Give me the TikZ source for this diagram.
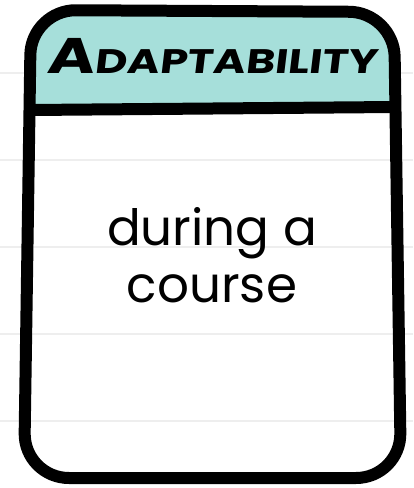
\documentclass[tikz,border=0pt]{standalone}
\usepackage{fontspec}
\setmainfont{Poppins}
\newfontfamily\headfont[FakeSlant=0.12, FakeStretch=1.3]{Poppins}
\usetikzlibrary{positioning, calc}
\definecolor{headteal}{HTML}{A6DFDA}
\definecolor{ruleline}{HTML}{EEEEEE}

\begin{document}
\begin{tikzpicture}[x=1pt, y=-1pt,
    border/.style={line width=12pt, line join=round, line cap=round},
    ruled/.style={ruleline, line width=1.5pt},
    headtext/.style={font=\headfont\bfseries\fontsize{34}{36}\selectfont, anchor=base, inner sep=0pt},
    bodytext/.style={font=\fontsize{50}{56}\selectfont, anchor=base, inner sep=0pt}]

                    \useasboundingbox (0, 0) rectangle (413, 488);

                    % page lines
                    \foreach \y in {73, 160, 247, 334, 421}
                        \draw [ruled] (0, \y) -- (413, \y);

                    % header
                    \begin{scope}
                        \clip [rounded corners=45] (24, 478) -- (31, 10) -- (394, 12) -- (401, 478) -- cycle;
                        \fill [headteal] (0, 0) rectangle (413, 109);
                    \end{scope}

                    \draw [border] (31, 110) -- (394, 107);
                    \draw [border, rounded corners=45] (24, 478) -- (31, 10) -- (394, 12) -- (401, 478) -- cycle;

                    \node [headtext] (title) at (212, 73) {{\fontsize{50}{50}\selectfont A}DAPTABILITY};

                    \node [bodytext] (line1) at (212, 245) {during a};
                    \node [bodytext] (line2) at ($(line1.base) + (0, 57)$) {course};
                \end{tikzpicture}
\end{document}
